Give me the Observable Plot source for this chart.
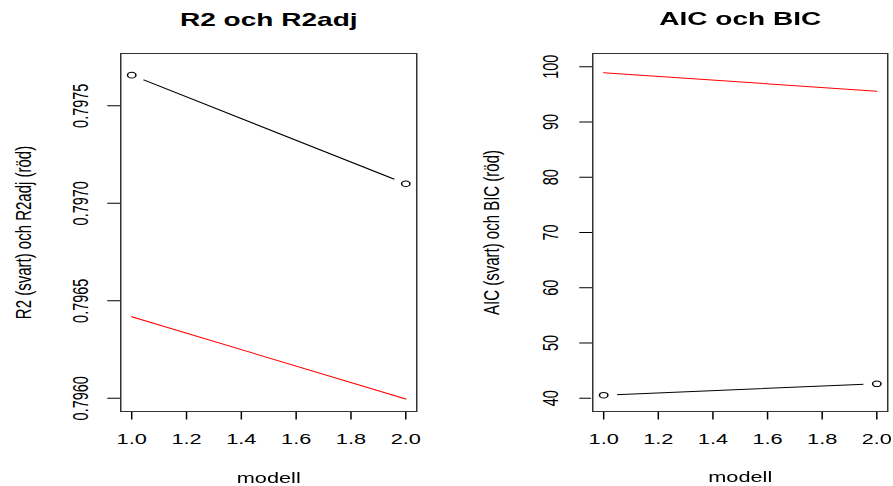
<!DOCTYPE html>
<html><head><meta charset="utf-8">
<script src="https://cdn.jsdelivr.net/npm/d3@7"></script>
<script src="https://cdn.jsdelivr.net/npm/@observablehq/plot@0.6"></script>
<style>
html,body{margin:0;padding:0;background:#fff;}
#wrap{position:relative;width:595.33px;height:486px;transform:scaleX(1.5);transform-origin:0 0;}
#wrap svg{position:absolute;top:0;}
</style></head><body><div id="wrap"></div>
<script>
// data
const modell = [1, 2];
const r2 = [0.797657, 0.797100];      // svart
const r2adj = [0.796418, 0.795996];   // röd
const aic = [40.55, 42.61];           // svart
const bic = [98.91, 95.58];           // röd
const xTicks = [1.0, 1.2, 1.4, 1.6, 1.8, 2.0];
const r2Ticks = [0.7960, 0.7965, 0.7970, 0.7975];
const icTicks = [40, 50, 60, 70, 80, 90, 100];

function panel(o) {
  const blackData = modell.map((m, i) => ({x: m, y: o.black[i]}));
  const redData = modell.map((m, i) => ({x: m, y: o.red[i]}));
  const fx = d3.format(".1f");
  return Plot.plot({
    width: o.width, height: 486,
    marginTop: 53, marginBottom: 75, marginLeft: o.marginLeft, marginRight: o.marginRight,
    style: {fontFamily: "'Liberation Sans', Arial, sans-serif", fontSize: "14.5px", color: "#000", background: "#fff", overflow: "visible"},
    x: {domain: [0.96, 2.04], label: null},
    y: {domain: o.yDomain, label: null},
    marks: [
      Plot.axisX({ticks: xTicks, tickSize: 8.5, tickPadding: 13.5, tickFormat: fx, label: null}),
      Plot.axisY({ticks: o.yTicks, tickSize: 8.5, tickPadding: o.tickPadY, tickRotate: -90, tickFormat: o.yFormat, label: null}),
      Plot.line(redData, {x: "x", y: "y", stroke: "red", strokeWidth: 1}),
      Plot.line(blackData, {x: "x", y: "y", stroke: "black", strokeWidth: 1}),
      Plot.dot(blackData, {x: "x", y: "y", r: 9, fill: "white", stroke: null}),
      Plot.dot(blackData, {x: "x", y: "y", r: 2.8, fill: "none", stroke: "black", strokeWidth: 1}),
      Plot.frame({stroke: "#333", strokeWidth: 1}),
      Plot.text([o.title], {frameAnchor: "top", dy: -28, lineAnchor: "bottom", textAnchor: "middle", fontWeight: "bold", fontSize: 18.7}),
      Plot.text(["modell"], {frameAnchor: "bottom", dy: 71, lineAnchor: "bottom", textAnchor: "middle", fontSize: 14.5}),
      Plot.text([o.ylabel], {frameAnchor: "left", dx: o.ylabelDx, rotate: -90, lineAnchor: "bottom", textAnchor: "middle", fontSize: 15})
    ]
  });
}

const wrap = document.getElementById("wrap");
const left = panel({
  width: 297, marginLeft: 80, marginRight: 19.67,
  yDomain: [0.795932, 0.797768], yTicks: r2Ticks, yFormat: d3.format(".4f"),
  black: r2, red: r2adj, title: "R2 och R2adj",
  ylabel: "R2 (svart) och R2adj (röd)", ylabelDx: -59.8, tickPadY: 13.3
});
left.style.left = "0px";
const right = panel({
  width: 298.33, marginLeft: 97.67, marginRight: 4,
  yDomain: [37.6, 102.4], yTicks: icTicks, yFormat: d3.format("d"),
  black: aic, red: bic, title: "AIC och BIC",
  ylabel: "AIC (svart) och BIC (röd)", ylabelDx: -62.5, tickPadY: 14.5
});
right.style.left = "297px";
wrap.appendChild(left);
wrap.appendChild(right);
</script>
</body></html>
